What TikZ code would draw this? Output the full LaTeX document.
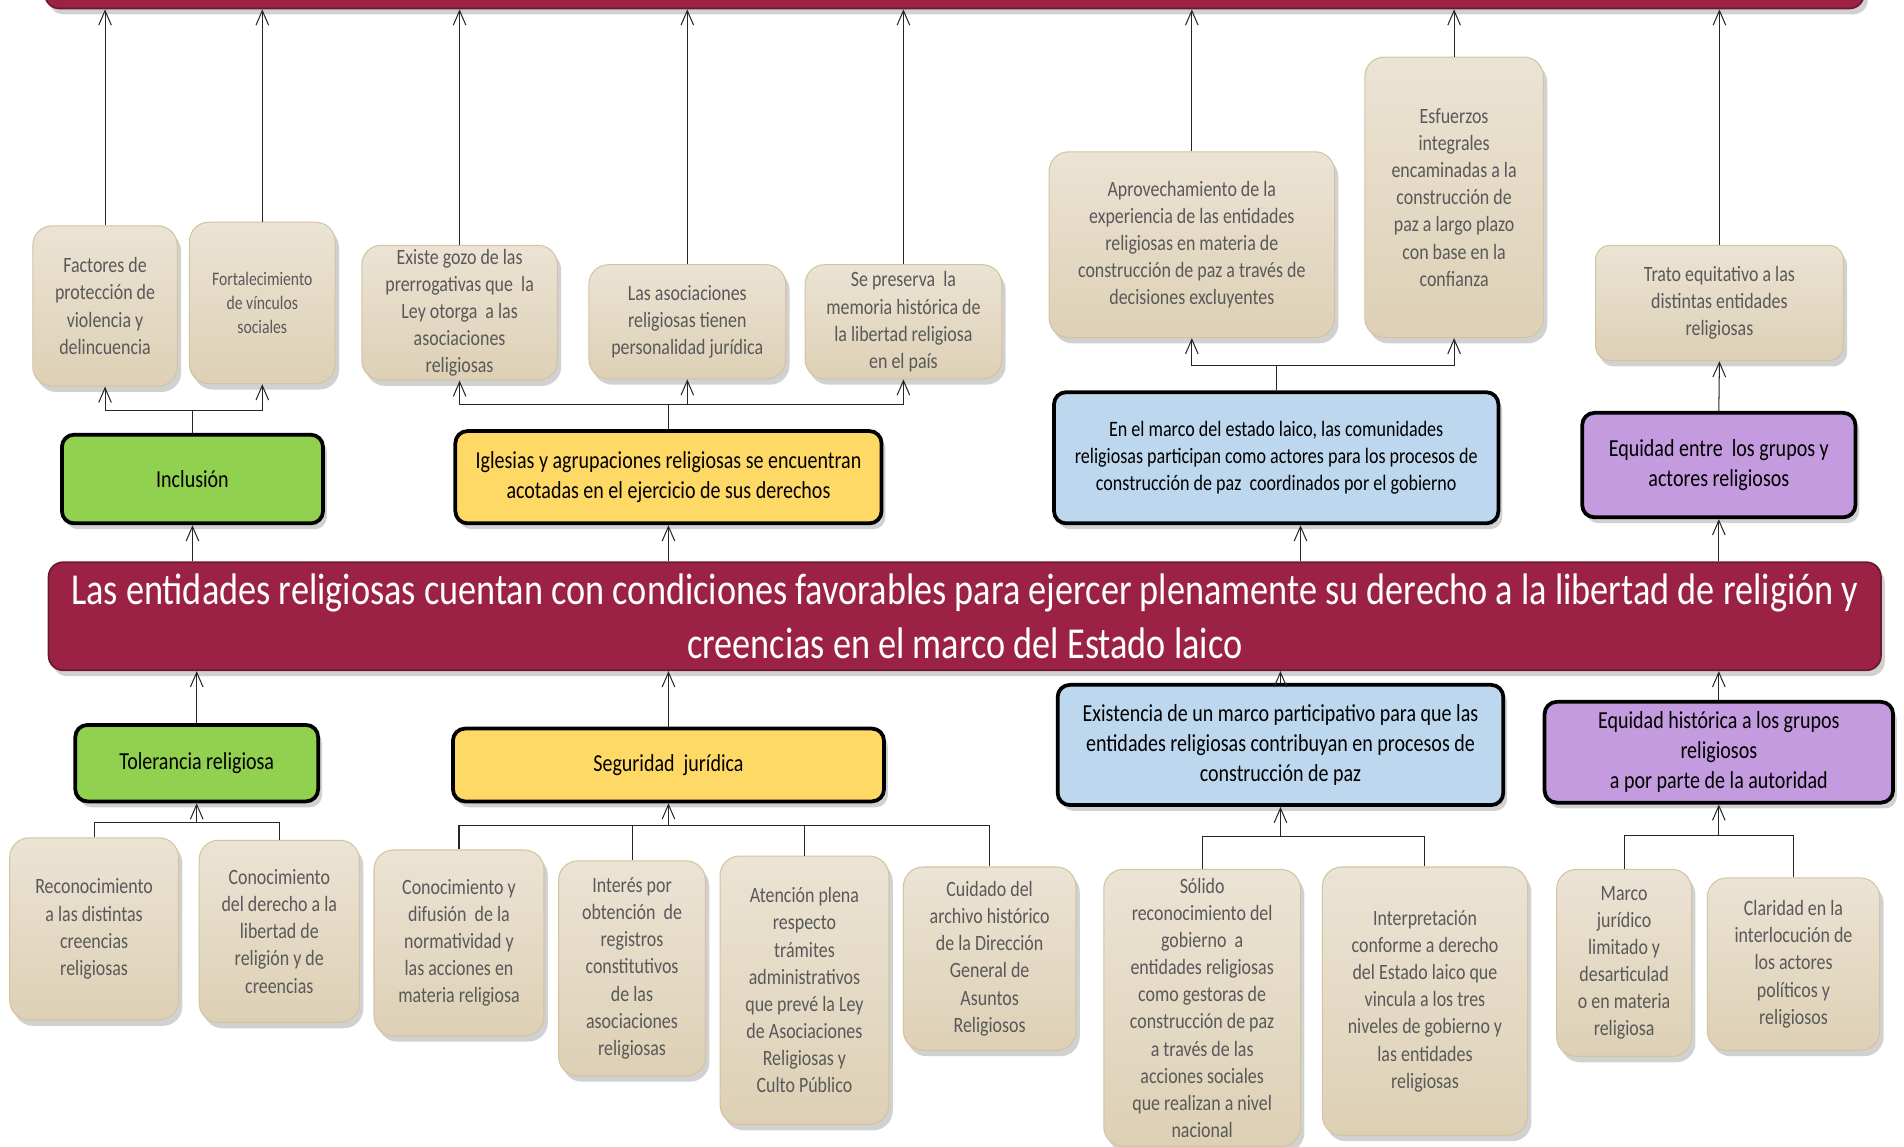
\documentclass[tikz,border=0pt]{standalone}
\usepackage{fontspec}
\setmainfont{Carlito}[FakeStretch=0.82]
\usepackage{tikz}
\usepackage{xcolor}
\usetikzlibrary{arrows.meta,shadows}

\definecolor{mainred}{HTML}{9B2245}
\definecolor{greenbox}{HTML}{92D050}
\definecolor{yellowbox}{HTML}{FFD966}
\definecolor{bluebox}{HTML}{BDD7EE}
\definecolor{purplebox}{HTML}{C39BDE}
\definecolor{beigetop}{HTML}{EBE3D4}
\definecolor{beigebot}{HTML}{DDD0B5}
\definecolor{beigeline}{HTML}{D3C39F}
\definecolor{textgray}{HTML}{595959}

\begin{document}
\begin{tikzpicture}
[
x=0.25mm, y=-0.25mm,
size-wh/.style 2 args={minimum width=#1*0.25mm, minimum height=#2*0.25mm},
box-b/.style={rounded corners=4mm, draw=beigeline, line width=0.6pt, top color=beigetop, bottom color=beigebot,
  text=textgray, align=center, inner sep=2pt, font=\fontsize{12.8}{15.9}\selectfont,
  drop shadow={shadow xshift=0.8mm, shadow yshift=-1.2mm, opacity=0.3, fill=black!60}},
box-c/.style={rounded corners=2.5mm, draw=black, line width=2.2pt, text=black, align=center, inner sep=2pt,
  font=\fontsize{14.3}{17.7}\selectfont,
  drop shadow={shadow xshift=0.8mm, shadow yshift=-1.2mm, opacity=0.3, fill=black!60}},
bar-m/.style={rounded corners=3mm, draw=mainred!70!black, line width=1pt, fill=mainred, text=white, align=center,
  inner sep=2pt, font=\fontsize{25.9}{31.2}\selectfont,
  drop shadow={shadow xshift=0.8mm, shadow yshift=-1.2mm, opacity=0.3, fill=black!60}},
link-a/.style={draw=black!85, line width=0.6pt, -{Straight Barb[length=3mm,width=2.6mm]}},
link-b/.style={draw=black!85, line width=0.6pt}
]
\useasboundingbox (0,0) rectangle (1568,944);

\node (topbar) [bar-m, size-wh={1498}{64}]                     at (786,-25)      {};
\node (main)   [bar-m, size-wh={1509}{89}]                     at (794.5,507.5)  {Las entidades religiosas cuentan con condiciones favorables para ejercer plenamente su derecho a la libertad de religión y\\creencias en el marco del Estado laico};

\node (fact)   [box-b, size-wh={119}{132}]                     at (86.5,252)     {Factores de\\protección de\\violencia y\\delincuencia};
\node (fort)   [box-b, size-wh={120}{133}, font=\fontsize{11.2}{13.8}\selectfont] at (216,249.5) {Fortalecimiento\\de vínculos\\sociales};
\node (gozo)   [box-b, size-wh={161}{111}]                     at (378.5,257.5)  {Existe gozo de las\\prerrogativas que\ \ la\\Ley otorga\ \ a las\\asociaciones\\religiosas};
\node (asoc)   [box-b, size-wh={162}{94}]                      at (566,265)      {Las asociaciones\\religiosas tienen\\personalidad jurídica};
\node (memo)   [box-b, size-wh={162}{94}]                      at (744,265)      {Se preserva\ \ la\\memoria histórica de\\la libertad religiosa\\en el país};
\node (apro)   [box-b, size-wh={235}{153}]                     at (981.5,201.5)  {Aprovechamiento de la\\experiencia de las entidades\\religiosas en materia de\\construcción de paz a través de\\decisiones excluyentes};
\node (esfu)   [box-b, size-wh={147}{231}]                     at (1197.5,162.5) {Esfuerzos\\integrales\\encaminadas a la\\construcción de\\paz a largo plazo\\con base en la\\confianza};
\node (trato)  [box-b, size-wh={204}{95}, rounded corners=3mm] at (1416,249.5)   {Trato equitativo a las\\distintas entidades\\religiosas};

\node (incl)   [box-c, fill=greenbox, size-wh={215}{73}]        at (158.5,394.5)  {Inclusión};
\node (igle)   [box-c, fill=yellowbox, size-wh={351}{76}]       at (550.5,393)    {Iglesias y agrupaciones religiosas se encuentran\\acotadas en el ejercicio de sus derechos};
\node (marco)  [box-c, fill=bluebox, size-wh={366}{108}, font=\fontsize{12.9}{16}\selectfont] at (1051,377) {En el marco del estado laico, las comunidades\\religiosas participan como actores para los procesos de\\construcción de paz\ \ coordinados por el gobierno};
\node (equi)   [box-c, fill=purplebox, size-wh={225}{86}]       at (1415.5,383)   {Equidad entre\ \ los grupos y\\actores religiosos};

\node (tol)    [box-c, fill=greenbox, size-wh={200}{63}]        at (162,628.5)    {Tolerancia religiosa};
\node (segu)   [box-c, fill=yellowbox, size-wh={355}{60}]       at (550.5,630)    {Seguridad\ \ jurídica};
\node (exis)   [box-c, fill=bluebox, size-wh={367}{99}]         at (1054.5,613.5) {Existencia de un marco participativo para que las\\entidades religiosas contribuyan en procesos de\\construcción de paz};
\node (equh)   [box-c, fill=purplebox, size-wh={287}{83}]       at (1415.5,619.5) {Equidad histórica a los grupos\\religiosos\\a por parte de la autoridad};

\node (reco)   [box-b, size-wh={139}{150}]                     at (77.5,765)     {Reconocimiento\\a las distintas\\creencias\\religiosas};
\node (cono)   [box-b, size-wh={132}{150}]                     at (230,767)      {Conocimiento\\del derecho a la\\libertad de\\religión y de\\creencias};
\node (difu)   [box-b, size-wh={140}{153}]                     at (378,776.5)    {Conocimiento y\\difusión\ \ de la\\normatividad y\\las acciones en\\materia religiosa};
\node (inte)   [box-b, size-wh={121}{177}]                     at (520.5,797.5)  {Interés por\\obtención\ \ de\\registros\\constitutivos\\de las\\asociaciones\\religiosas};
\node (aten)   [box-b, size-wh={139}{221}]                     at (662.5,815.5)  {Atención plena\\respecto\\trámites\\administrativos\\que prevé la Ley\\de Asociaciones\\Religiosas y\\Culto Público};
\node (cuid)   [box-b, size-wh={142}{151}]                     at (815,789.5)    {Cuidado del\\archivo histórico\\de la Dirección\\General de\\Asuntos\\Religiosos};
\node (soli)   [box-b, size-wh={162}{228}]                     at (990,830)      {Sólido\\reconocimiento del\\gobierno\ \ a\\entidades religiosas\\como gestoras de\\construcción de paz\\a través de las\\acciones sociales\\que realizan a nivel\\nacional};
\node (interp) [box-b, size-wh={169}{221}]                     at (1173.5,824.5) {Interpretación\\conforme a derecho\\del Estado laico que\\vincula a los tres\\niveles de gobierno y\\las entidades\\religiosas};
\node (marj)   [box-b, size-wh={111}{154}]                     at (1337.5,793)   {Marco\\jurídico\\limitado y\\desarticulad\\o en materia\\religiosa};
\node (clar)   [box-b, size-wh={142}{142}]                     at (1477,794)     {Claridad en la\\interlocución de\\los actores\\políticos y\\religiosos};

\coordinate (j-incl)  at (158.5,338);
\coordinate (j-igle)  at (550.5,333);
\coordinate (j-marco) at (1051,301);
\coordinate (j-tol)   at (162,677);
\coordinate (j-segu)  at (550.5,680);
\coordinate (j-exis)  at (1054.5,689);
\coordinate (j-equh)  at (1415.5,688);

\foreach \n in {fact,fort,gozo,asoc,memo,apro,esfu,trato}
  \draw[link-a] (\n.north) -- (\n.north |- topbar.south);

\draw[link-b] (incl.north) -- (j-incl);
\foreach \n in {fact,fort}
  \draw[link-a] (j-incl) -| (\n.south);
\draw[link-b] (igle.north) -- (j-igle);
\foreach \n in {gozo,asoc,memo}
  \draw[link-a] (j-igle) -| (\n.south);
\draw[link-b] (marco.north) -- (j-marco);
\foreach \n in {apro,esfu}
  \draw[link-a] (j-marco) -| (\n.south);
\draw[link-a] (equi.north) -- (trato.south);

\draw[link-a] (incl.south |- main.north) -- (incl.south);
\draw[link-a] (igle.south |- main.north) -- (igle.south);
\draw[link-a] ([xshift=5mm]marco.south |- main.north) -- ([xshift=5mm]marco.south);
\draw[link-a] (equi.south |- main.north) -- (equi.south);

\foreach \n in {tol,segu,exis,equh}
  \draw[link-a] (\n.north) -- (\n.north |- main.south);

\foreach \n in {reco,cono}
  \draw[link-b] (\n.north) |- (j-tol);
\draw[link-a] (j-tol) -- (tol.south);
\foreach \n in {difu,inte,aten,cuid}
  \draw[link-b] (\n.north) |- (j-segu);
\draw[link-a] (j-segu) -- (segu.south);
\foreach \n in {soli,interp}
  \draw[link-b] (\n.north) |- (j-exis);
\draw[link-a] (j-exis) -- (exis.south);
\foreach \n in {marj,clar}
  \draw[link-b] (\n.north) |- (j-equh);
\draw[link-a] (j-equh) -- (equh.south);
\end{tikzpicture}
\end{document}
